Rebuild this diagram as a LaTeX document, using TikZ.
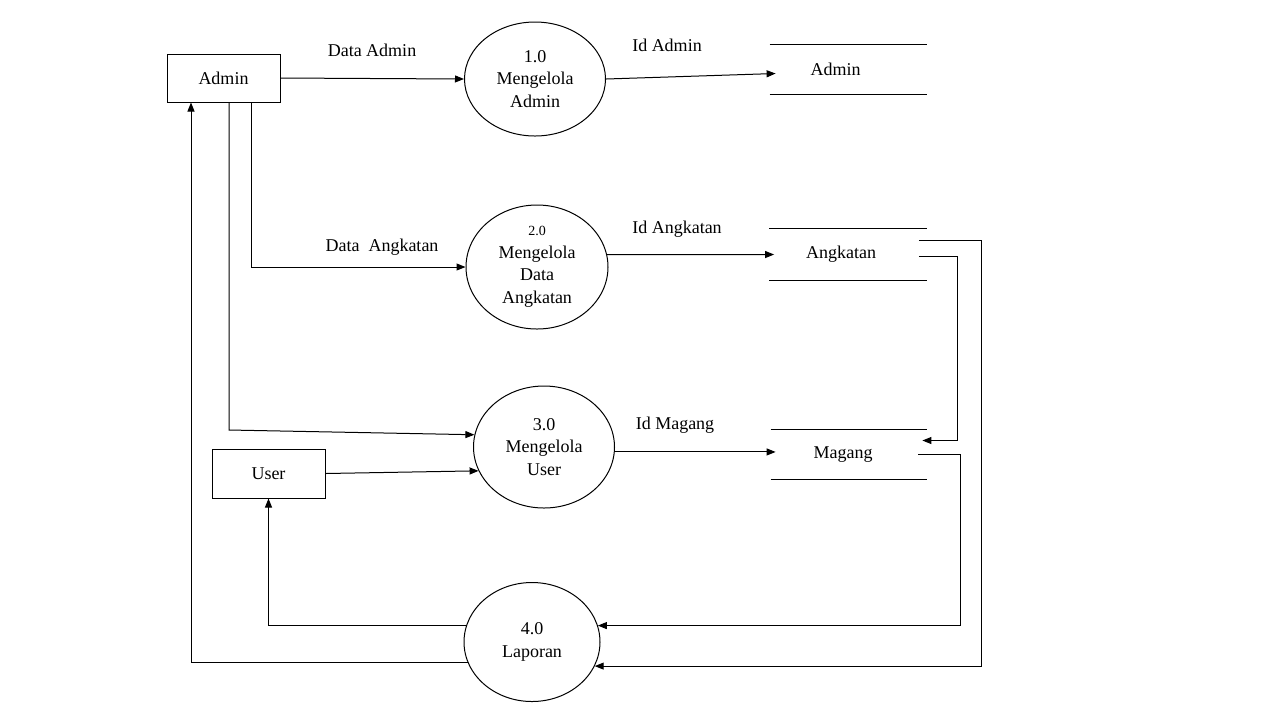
\documentclass[tikz,border=0pt]{standalone}
\usepackage{fontspec}
\setmainfont{Liberation Serif}
\usetikzlibrary{positioning}
\usetikzlibrary{calc}
\usetikzlibrary{arrows.meta}
\usetikzlibrary{shapes.geometric}

\begin{document}
\begin{tikzpicture}[
    x=0.5pt, y=-0.5pt,
    every node/.style={font=\fontsize{9}{11.25}\selectfont},
    ENT/.style={rectangle, draw=black, line width=0.5pt, minimum width=56.5pt, minimum height=24pt, inner sep=0pt},
    PROC/.style={ellipse, draw=black, line width=0.5pt, inner sep=0pt, align=center},
    STORE/.style={rectangle, minimum width=78.5pt, minimum height=24.5pt, inner sep=0pt},
    FLOW/.style={-{Triangle[length=4.5pt, width=3.5pt]}, line width=0.5pt},
    ]
        \useasboundingbox[fill=white] (0,0) rectangle (1280,720);

        % entities
        \node[ENT] (Adm) at (223.5,78) {Admin};
        \node[ENT, minimum height=24.5pt] (Usr) at (268.5,473.5) {User};

        % processes
        \node[PROC, minimum width=70.5pt, minimum height=57pt] (P1) at (535,79) {1.0\\Mengelola\\Admin};
        \node[PROC, minimum width=71pt, minimum height=62pt] (P2) at (537,267) {{\fontsize{7}{9}\selectfont 2.0}\\Mengelola\\Data\\Angkatan};
        \node[PROC, minimum width=70.5pt, minimum height=61pt] (P3) at (544,447) {3.0\\Mengelola\\User};
        \node[PROC, minimum width=68pt, minimum height=59.5pt] (P4) at (532,642) {4.0\\Laporan};

        % data stores
        \node[STORE] (DAdm) at (848.5,69.5) {\hspace*{-13pt}Admin};
        \node[STORE, minimum height=25.5pt] (DAng) at (848,254.5) {\hspace*{-7pt}Angkatan};
        \node[STORE, minimum width=78pt] (DMag) at (849,454.5) {\hspace*{-6pt}Magang};
        \draw[line width=0.5pt] (DAdm.north west) -- (DAdm.north east);
        \draw[line width=0.5pt] (DAdm.south west) -- (DAdm.south east);
        \draw[line width=0.5pt] (DAng.north west) -- (DAng.north east);
        \draw[line width=0.5pt] (DAng.south west) -- (DAng.south east);
        \draw[line width=0.5pt] (DMag.north west) -- (DMag.north east);
        \draw[line width=0.5pt] (DMag.south west) -- (DMag.south east);

        % flow labels
        \node (LDA) at (372,50) {Data Admin};
        \node (LIA) at (667,45) {Id Admin};
        \node (LDK) at (382,247) {Data\ \ Angkatan};
        \node (LIK) at (677,229) {Id Angkatan};
        \node (LIM) at (675,425) {Id Magang};

        % flows
        \draw[FLOW] (Adm.east) -- (P1.west);
        \draw[FLOW] (P1.east) -- ([xshift=3pt,yshift=-2pt]DAdm.west);
        \draw[FLOW] ([xshift=13.75pt]Adm.south) |- (P2.west);
        \coordinate (K3) at (229,430);
        \draw[FLOW] ([xshift=2.75pt]Adm.south) -- (K3) -- (P3.170);
        \draw[FLOW] (Usr.east) -- (P3.200);
        \draw[FLOW] (P2.10) -- ([xshift=2.5pt]DAng.west);
        \draw[FLOW] (P3.-4) -- ([xshift=2.5pt]P3.-4 -| DMag.west);
        \draw[FLOW] ([xshift=-4pt,yshift=-1pt]DAng.east) -- ++(19.5pt,0) |- ([xshift=-2.5pt,yshift=7pt]DMag.east);
        \draw[FLOW] ([xshift=-4pt,yshift=7pt]DAng.east) -- ++(31.5pt,0) |- (P4.-21);
        \draw[FLOW] ([xshift=-4.5pt]DMag.east) -- ++(21pt,0) |- (P4.14);
        \draw[FLOW] (P4.166) -| (Usr.south);
        \draw[FLOW] (P4.198) -| ([xshift=-16.25pt]Adm.south);
    \end{tikzpicture}
\end{document}
